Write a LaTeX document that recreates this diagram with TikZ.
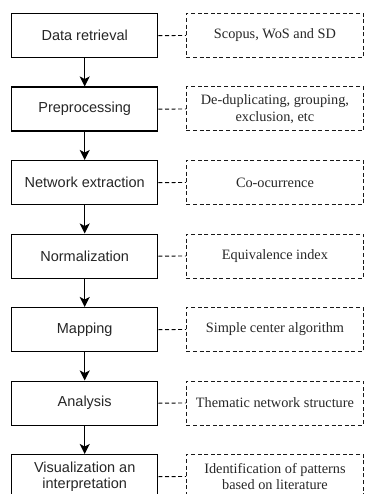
\documentclass[tikz,border=0pt]{standalone}
\usepackage{fontspec}
\setmainfont{Liberation Serif}
\newfontfamily\arialf{Liberation Sans}
\usetikzlibrary{arrows.meta}
\begin{document}
\begin{tikzpicture}[x=1pt,y=-1pt,
  stepbox/.style={draw=black,line width=1.4pt,minimum width=146pt,minimum height=44pt,inner sep=0pt,anchor=north west,align=center,font=\arialf\fontsize{14.5}{16.5}\selectfont,text=black!85},
  notebox/.style={draw=black!90,line width=0.9pt,dash pattern=on 4pt off 2.6pt,minimum width=177pt,minimum height=44pt,inner sep=0pt,anchor=north west,align=center,font=\fontsize{14.3}{16.5}\selectfont,text=black!85},
  flow/.style={line width=1.4pt,-{Stealth[length=10pt,width=10pt,inset=2.5pt]}},
  link/.style={line width=0.9pt,dash pattern=on 4pt off 2.6pt}]
\useasboundingbox (0,0) rectangle (365,494);
\node[stepbox] (s1) at (11,13) {Data retrieval};
\node[stepbox] (s2) at (11,86.5) {Preprocessing};
\node[stepbox] (s3) at (11,160) {Network extraction};
\node[stepbox] (s4) at (11,233.5) {Normalization};
\node[stepbox] (s5) at (11,307) {Mapping};
\node[stepbox] (s6) at (11,380.5) {Analysis};
\node[stepbox] (s7) at (11,454) {Visualization an\\interpretation};
\node[notebox] (n1) at (186,13) {Scopus, WoS and SD};
\node[notebox] (n2) at (186,86.5) {De-duplicating, grouping,\\exclusion, etc};
\node[notebox] (n3) at (186,160) {Co-ocurrence};
\node[notebox] (n4) at (186,233.5) {Equivalence index};
\node[notebox] (n5) at (186,307) {Simple center algorithm};
\node[notebox] (n6) at (186,380.5) {Thematic network structure};
\node[notebox] (n7) at (186,454) {Identification of patterns\\based on literature};
\foreach \a/\b in {s1/s2,s2/s3,s3/s4,s4/s5,s5/s6,s6/s7}
  \draw[flow] (\a.south) -- (\b.north);
\foreach \i in {1,...,7}
  \draw[link] (s\i.east) -- (n\i.west);
\end{tikzpicture}
\end{document}
